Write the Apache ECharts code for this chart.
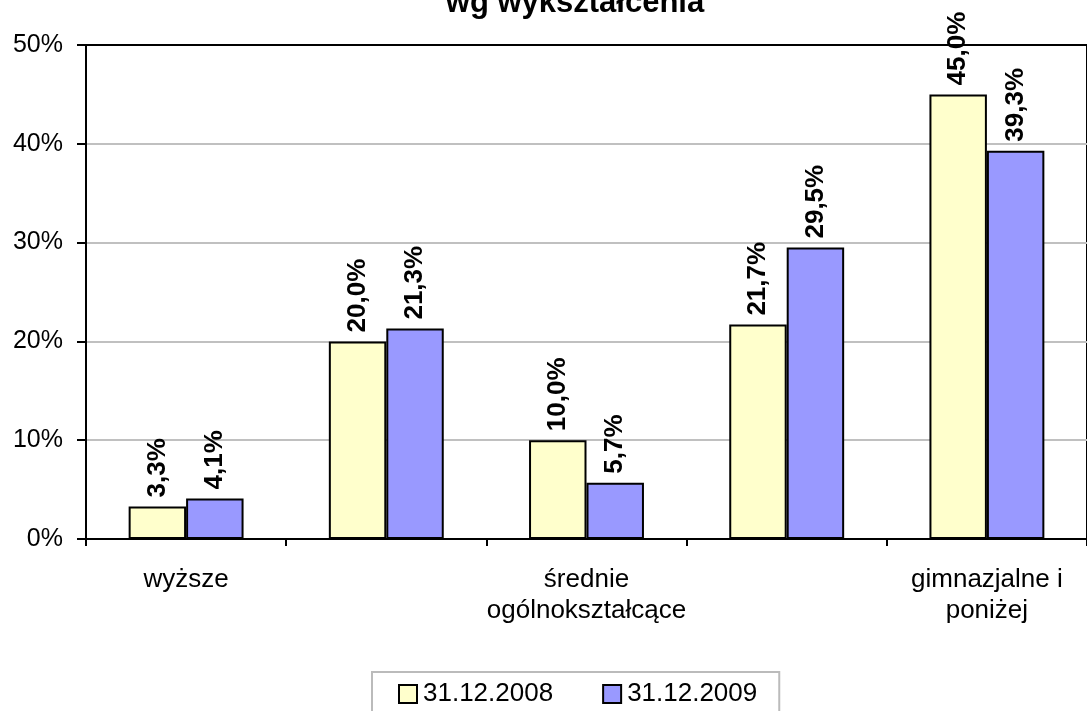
<!DOCTYPE html>
<html><head><meta charset="utf-8">
<script src="https://cdn.jsdelivr.net/npm/echarts@6/dist/echarts.min.js"></script>
<style>html,body{margin:0;padding:0;background:#fff}#c{width:1087px;height:711px}</style>
</head><body><div id="c"></div>
<script>
const categories = ['wyższe', 'policealne i\nśrednie zawodowe', 'średnie\nogólnokształcące', 'zasadnicze\nzawodowe', 'gimnazjalne i\nponiżej'];
const series2008 = [3.3, 20.0, 10.0, 21.7, 45.0];
const series2009 = [4.1, 21.3, 5.7, 29.5, 39.3];
const seriesNames = ['31.12.2008', '31.12.2009'];
const yTicks = [0, 10, 20, 30, 40, 50];
const titleText = 'wg wykształcenia';

const FONT = 'Liberation Sans, Arial, sans-serif';
const chart = echarts.init(document.getElementById('c'), null, {renderer: 'canvas'});
const lbl = {
  show: true, position: 'top', rotate: 90, align: 'left', verticalAlign: 'middle',
  distance: 9, fontFamily: FONT, fontWeight: 'bold', fontSize: 26, color: '#000',
  formatter: p => p.value.toFixed(1).replace('.', ',') + '%'
};
chart.setOption({
  animation: false,
  title: {text: titleText, left: 570, textAlign: 'center', top: -17,
    textStyle: {fontFamily: FONT, fontWeight: 'bold', fontSize: 31, color: '#000'}},
  grid: {left: 86, top: 45, right: -9, bottom: 172, show: true, borderColor: '#000', borderWidth: 2},
  legend: {left: 372, top: 672, padding: [9, 22, 8, 26], itemGap: 49, itemWidth: 18, itemHeight: 18,
    borderColor: '#bbb', borderWidth: 2, icon: 'rect',
    itemStyle: {borderColor: '#000', borderWidth: 2},
    textStyle: {fontFamily: FONT, fontSize: 26, color: '#000', padding: [0, 0, 0, 1]},
    data: seriesNames},
  xAxis: {type: 'category', data: categories,
    axisLine: {lineStyle: {color: '#000', width: 2}},
    axisTick: {show: true, interval: 0, length: 7, lineStyle: {color: '#000', width: 2}},
    axisLabel: {interval: 1, margin: 25, fontFamily: FONT, fontSize: 26, color: '#000', lineHeight: 31}},
  yAxis: {type: 'value', min: yTicks[0], max: yTicks[yTicks.length - 1], interval: 10,
    axisLine: {show: true, lineStyle: {color: '#000', width: 2}},
    axisTick: {show: true, length: 9, lineStyle: {color: '#000', width: 2}},
    axisLabel: {margin: 23, formatter: '{value}%', fontFamily: FONT, fontSize: 25, color: '#000'},
    splitLine: {lineStyle: {color: ['#c0c0c0', '#c0c0c0', '#c0c0c0', '#c0c0c0', '#c0c0c0', '#000'], width: 2}}},
  series: [
    {name: seriesNames[0], type: 'bar', data: series2008, barGap: '0%', barCategoryGap: '42.6%',
      itemStyle: {color: '#FFFFCC', borderColor: '#000', borderWidth: 2}, label: lbl},
    {name: seriesNames[1], type: 'bar', data: series2009, barGap: '0%', barCategoryGap: '42.6%',
      itemStyle: {color: '#9999FF', borderColor: '#000', borderWidth: 2}, label: lbl}
  ]
});
</script></body></html>
